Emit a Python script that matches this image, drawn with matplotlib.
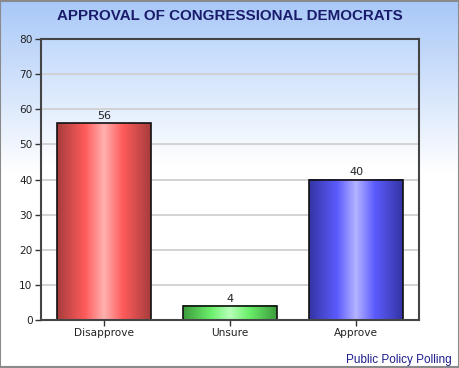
import numpy as np
import matplotlib.pyplot as plt
from matplotlib.colors import LinearSegmentedColormap, to_rgb
from matplotlib.patches import Rectangle

categories = ["Disapprove", "Unsure", "Approve"]
values = [56, 4, 40]
title = "APPROVAL OF CONGRESSIONAL DEMOCRATS"
source = "Public Policy Polling"

# edge, mid, highlight for each bar
bar_colors = [
    ("#a83c3c", "#ff5c5c", "#ffb0b0"),
    ("#3c9c3c", "#6cf06c", "#b8ffb8"),
    ("#3434a4", "#5c5cff", "#b4b4ff"),
]

W, H = 460, 368
fig = plt.figure(figsize=(W / 100, H / 100), dpi=100)

# figure background gradient
bg = fig.add_axes([0, 0, 1, 1], zorder=-10)
bg.set_axis_off()
top = np.array(to_rgb("#a8c8f8"))
t = np.linspace(0, 1, 368)
fade = np.clip(t / 0.47, 0, 1)[:, None]
grad = top * (1 - fade) + np.ones(3) * fade
bg.imshow(grad[:, None, :].repeat(2, axis=1), aspect="auto", extent=[0, 1, 0, 1], origin="upper")
bg.add_patch(Rectangle((0.001, 0.002), 0.996, 0.996, fill=False, edgecolor="#8a8a8a", lw=1.5,
                       transform=bg.transAxes))
bg.set_xlim(0, 1)
bg.set_ylim(0, 1)

ax = fig.add_axes([41 / W, 48 / H, 378 / W, 281 / H])
ax.patch.set_visible(False)
ax.set_xlim(-0.5, 2.5)
ax.set_ylim(0, 80)

# plot area gradient
ptop = np.array(to_rgb("#c2dafc"))
tp = np.linspace(0, 1, 281)
pf = np.clip(tp / 0.45, 0, 1)[:, None]
pgrad = ptop * (1 - pf) + np.ones(3) * pf
ax.imshow(pgrad[:, None, :].repeat(2, axis=1), aspect="auto", extent=[-0.5, 2.5, 0, 80],
          origin="upper", zorder=0)

for y in range(10, 80, 10):
    ax.axhline(y, color="#d0d0d0", lw=1.3, zorder=1)

width = 0.74
for i, (v, cols) in enumerate(zip(values, bar_colors)):
    edge, mid, hi = cols
    cmap = LinearSegmentedColormap.from_list(
        "b%d" % i, [(0, edge), (0.3, mid), (0.5, hi), (0.7, mid), (1, edge)])
    x0 = i - width / 2
    ax.imshow(np.linspace(0, 1, 200)[None, :], cmap=cmap, aspect="auto",
              extent=[x0, x0 + width, 0, v], zorder=2)
    rect = Rectangle((x0, 0), width, v, fill=False, edgecolor="#111111", lw=1.2, zorder=3)
    ax.add_patch(rect)
    ax.text(i, v + 0.6, str(v), ha="center", va="bottom", fontsize=8, color="#222222", zorder=4)

ax.set_xlim(-0.5, 2.5)
ax.set_ylim(0, 80)
ax.set_xticks(range(len(categories)))
ax.set_xticklabels(categories, fontsize=7.6, color="#222222")
ax.set_yticks(range(0, 81, 10))
ax.set_yticklabels([str(y) for y in range(0, 81, 10)], fontsize=7.6, color="#222222")
ax.tick_params(length=4, width=1, color="#333333", pad=2)
for s in ax.spines.values():
    s.set_color("#444444")
    s.set_linewidth(1.5)
    s.set_zorder(5)

fig.text(0.5, 1 - 16 / H, title, ha="center", va="center", fontsize=10.9, fontweight="bold",
         color="#1a1a6a", family="Liberation Sans")
fig.text(1 - 8 / W, 1 - 360 / H, source, ha="right", va="center", fontsize=8.5,
         color="#1c1c8c", family="Liberation Sans")

fig.savefig("out.png", dpi=100)
